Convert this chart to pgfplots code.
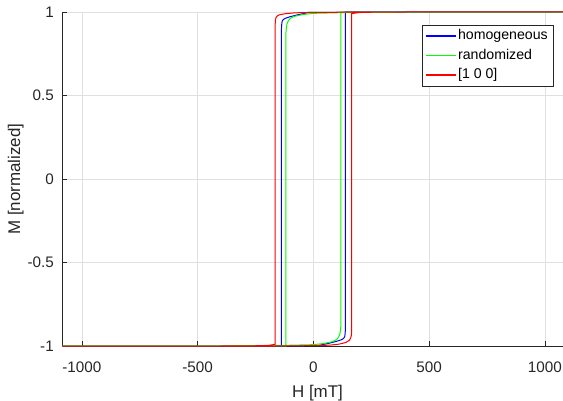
\documentclass[border=0pt]{standalone}
\usepackage{pgfplots}
\pgfplotsset{compat=1.18}
\usepackage{fontspec}
\setmainfont{Liberation Sans}
\definecolor{axisgray}{rgb}{0.15,0.15,0.15}
\definecolor{gridgray}{rgb}{0.88,0.88,0.88}
\definecolor{mblue}{rgb}{0,0,1}
\definecolor{mgreen}{rgb}{0,1,0}
\definecolor{mred}{rgb}{1,0,0}
\begin{document}
\begin{tikzpicture}
\begin{axis}[
  scale only axis, width=501bp, height=334bp,
  xmin=-1086, xmax=1078, ymin=-1, ymax=1,
  axis x line*=bottom, axis y line*=left,
  axis line style={-, axisgray, line width=0.6bp},
  clip=false,
  xtick={-1000,-500,0,500,1000},
  xticklabels={-1000,-500,0,500,1000},
  ytick={-1,-0.5,0,0.5,1},
  yticklabels={-1,-0.5,0,0.5,1},
  tick align=inside,
  major tick length=5bp,
  tick style={axisgray, line width=0.6bp},
  grid=major,
  grid style={gridgray, line width=0.6bp},
  ticklabel style={font=\fontsize{15.3}{17}\selectfont, text=axisgray},
  xticklabel style={anchor=north, inner sep=0pt, yshift=-16bp},
  yticklabel style={anchor=east, inner sep=0pt, xshift=-8bp},
  label style={font=\fontsize{17}{20}\selectfont, text=axisgray},
  xlabel={H [mT]},
  ylabel={M [normalized]},
  xlabel style={at={(axis description cs:0.51,-0.1527)}, anchor=base, inner sep=0pt},
  ylabel style={at={(axis description cs:-0.0838,0.5)}, anchor=base, inner sep=0pt},
  legend cell align=left,
  legend image code/.code={\draw[line width=1.2bp,#1] (0bp,0bp) -- (30bp,0bp);},
  legend style={at={(0.980,0.961)}, anchor=north east,
    draw=axisgray, fill=white,
    font=\fontsize{14.2}{16}\selectfont,
    inner xsep=3bp, inner ysep=1bp, row sep=0pt,
    nodes={inner sep=2bp, text height=11.5bp, text depth=4bp}},
]
% homogeneous
\addplot[mblue, line width=1bp] coordinates {
(-1086,-1) (-137,-1) (20,-0.998) (35,-0.993) (69,-0.983) (100,-0.972) (120,-0.963) (130,-0.955) (135,-0.945) (137,-0.925) (138,-0.9) (138,1) (1078,1)
(-20,0.998) (-35,0.993) (-69,0.983) (-100,0.972) (-120,0.963) (-130,0.955) (-135,0.945) (-137,0.925) (-138,0.9) (-138,-1) (-1086,-1)
};
\addlegendentry{homogeneous}
% randomized
\addplot[mgreen, line width=1bp] coordinates {
(-1086,-1) (-400,-0.999) (-119,-0.996) (0,-0.992) (45,-0.985) (82,-0.974) (100,-0.962) (108,-0.948) (114,-0.93) (117,-0.905) (119,-0.87) (119,1) (400,0.999) (1078,1)
(400,0.999) (119,0.996) (0,0.992) (-45,0.985) (-82,0.974) (-100,0.962) (-108,0.948) (-114,0.93) (-117,0.905) (-119,0.87) (-119,-1) (-400,-0.999) (-1086,-1)
};
\addlegendentry{randomized}
% [1 0 0]
\addplot[mred, line width=1bp] coordinates {
(-1086,-1) (-165,-1) (0,-0.998) (70,-0.995) (110,-0.989) (140,-0.979) (155,-0.966) (161,-0.952) (164,-0.935) (165,-0.91) (165,0.99) (200,0.998) (400,1) (1078,1)
(400,1) (200,0.999) (0,0.998) (-80,0.995) (-120,0.99) (-145,0.984) (-155,0.978) (-161,0.968) (-164,0.955) (-165,0.93) (-165,-0.99) (-200,-0.998) (-400,-1) (-1086,-1)
};
\addlegendentry{[1 0 0]}
\end{axis}
\pgfresetboundingbox
\path ([xshift=-62bp,yshift=-55bp]current axis.south west) rectangle ([yshift=12bp]current axis.north east);
\end{tikzpicture}
\end{document}
